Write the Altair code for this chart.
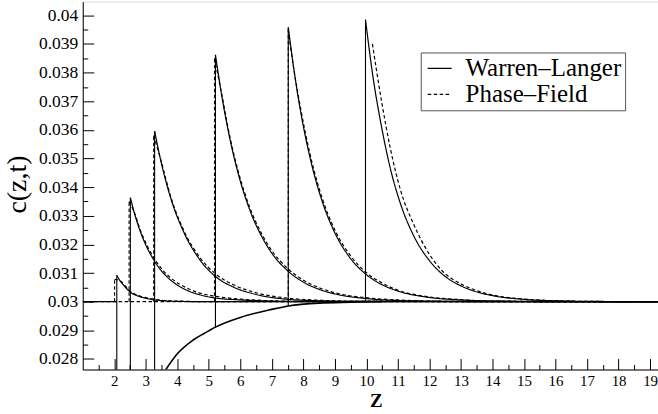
import altair as alt
import pandas as pd

SERIF = "Liberation Serif"

# ---------------- tick values ----------------
x_major = [2, 3, 4, 5, 6, 7, 8, 9, 10, 11, 12, 13, 14, 15, 16, 17, 18, 19]
x_minor = [1.5, 2.5, 3.5, 4.5, 5.5, 6.5, 7.5, 8.5, 9.5, 10.5, 11.5, 12.5, 13.5,
           14.5, 15.5, 16.5, 17.5, 18.5]
y_major = [0.028, 0.029, 0.030, 0.031, 0.032, 0.033, 0.034, 0.035, 0.036,
           0.037, 0.038, 0.039, 0.040]
y_minor = [0.0285, 0.0295, 0.0305, 0.0315, 0.0325, 0.0335, 0.0345, 0.0355,
           0.0365, 0.0375, 0.0385, 0.0395]

# ---------------- Warren-Langer profiles (solid) ----------------
wl0_z = [1.0, 2.08]
wl0_c = [0.0300, 0.0300]
wl1_z = [2.08, 2.2, 2.3, 2.5, 2.8, 3.0, 3.23, 3.6, 4.0, 5.0, 19.25]
wl1_c = [0.03092, 0.0307, 0.03057, 0.03034, 0.03018, 0.03012, 0.03007, 0.03003,
         0.03001, 0.0300, 0.0300]
wl2_z = [2.51, 2.65, 2.81, 3.0, 3.23, 3.5, 3.86, 4.3, 4.71, 5.13, 6.0, 7.0, 8.0, 19.25]
wl2_c = [0.03363, 0.03305, 0.0325, 0.03198, 0.0315, 0.03107, 0.03069, 0.0304,
         0.03024, 0.03014, 0.03006, 0.03002, 0.0300, 0.0300]
wl3_z = [3.28, 3.44, 3.81, 4.2, 4.71, 5.21, 5.8, 6.5, 7.52, 8.5, 9.5, 19.25]
wl3_c = [0.03596, 0.0351, 0.03355, 0.03244, 0.03147, 0.03088, 0.0305, 0.03025,
         0.03008, 0.03003, 0.03001, 0.0300]
wl4_z = [5.21, 5.4, 5.66, 5.95, 6.29, 6.71, 7.0, 7.5, 8.0, 8.5, 9.0, 9.97, 11.0, 12.0, 13.0, 19.25]
wl4_c = [0.03862, 0.03726, 0.03573, 0.0344, 0.03323, 0.03221, 0.03169, 0.03108,
         0.03068, 0.03043, 0.03027, 0.03011, 0.03004, 0.03002, 0.03001, 0.0300]
wl5_z = [7.52, 7.7, 7.92, 8.2, 8.6, 9.0, 9.5, 9.97, 10.5, 11.0, 11.97, 13.0, 14.0, 19.25]
wl5_c = [0.03958, 0.0381, 0.03659, 0.03508, 0.03349, 0.0324, 0.0315, 0.03097,
         0.03059, 0.03037, 0.03015, 0.03006, 0.03002, 0.0300]
wl6_z = [9.97, 10.2, 10.48, 10.75, 11.08, 11.5, 12.0, 12.4, 13.0, 13.6, 14.1, 15.0,
         16.0, 17.0, 19.25]
wl6_c = [0.03985, 0.03791, 0.0361, 0.03469, 0.03342, 0.0323, 0.03143, 0.03097,
         0.03055, 0.03031, 0.03019, 0.03008, 0.03003, 0.03001, 0.0300]

# solid-side concentration (shared lower curve)
low_z = [3.28, 3.62, 4.0, 4.5, 5.0, 5.21, 6.0, 7.0, 7.52, 8.5, 9.5, 10.5]
low_c = [0.02699, 0.0276, 0.02818, 0.02866, 0.02898, 0.02911, 0.02945, 0.02973,
         0.02985, 0.02995, 0.02998, 0.0300]

# vertical interface jumps
wl_front_z = [2.08, 2.51, 3.28, 5.21, 7.52, 9.97]
wl_front_lo = [0.0270, 0.0270, 0.0270, 0.02911, 0.02985, 0.02999]
wl_front_hi = [0.03092, 0.03363, 0.03596, 0.03862, 0.03958, 0.03985]

# ---------------- Phase-Field profiles (dashed) ----------------
pf0_z = [1.0, 7.52]
pf0_c = [0.0300, 0.0300]
pf1_z = [2.01, 2.2, 2.3, 2.5, 2.8, 3.0, 3.23, 3.6, 4.0, 5.0, 19.25]
pf1_c = [0.03078, 0.03072, 0.03061, 0.03037, 0.0302, 0.03014, 0.03009, 0.03004,
         0.03002, 0.0300, 0.0300]
pf2_z = [2.47, 2.65, 2.81, 3.0, 3.23, 3.5, 3.86, 4.3, 4.71, 5.13, 6.0, 7.0, 8.0, 19.25]
pf2_c = [0.0335, 0.03308, 0.03255, 0.03205, 0.03158, 0.03115, 0.03077, 0.03048,
         0.0303, 0.0302, 0.03009, 0.03003, 0.03001, 0.0300]
pf3_z = [3.25, 3.44, 3.81, 4.2, 4.71, 5.21, 5.8, 6.5, 7.52, 8.5, 9.5, 19.25]
pf3_c = [0.0358, 0.0351, 0.0336, 0.0325, 0.03155, 0.03097, 0.03058, 0.03031,
         0.03012, 0.03005, 0.03002, 0.0300]
pf4_z = [5.18, 5.4, 5.66, 5.95, 6.29, 6.71, 7.0, 7.5, 8.0, 8.5, 9.0, 9.97, 11.0, 12.0, 13.0, 19.25]
pf4_c = [0.0385, 0.0373, 0.0358, 0.03448, 0.03332, 0.0323, 0.03178, 0.03116,
         0.03075, 0.03049, 0.03031, 0.03014, 0.03006, 0.03002, 0.03001, 0.0300]
pf5_z = [7.52, 7.7, 7.92, 8.2, 8.6, 9.0, 9.5, 9.97, 10.5, 11.0, 11.97, 13.0, 14.0, 19.25]
pf5_c = [0.0395, 0.0381, 0.0367, 0.0352, 0.0336, 0.0325, 0.0316, 0.03104, 0.03065,
         0.0304, 0.03017, 0.03007, 0.03002, 0.0300]
pf6_z = [10.19, 10.48, 10.75, 11.08, 11.5, 12.0, 12.4, 13.0, 13.6, 14.1, 15.0, 16.0,
         17.0, 19.25]
pf6_c = [0.0390, 0.0370, 0.0354, 0.0339, 0.0327, 0.03165, 0.03108, 0.03062, 0.03035,
         0.03021, 0.03009, 0.03003, 0.03001, 0.0300]

pf_front_z = [2.01, 2.47, 3.25, 5.18, 7.52]
pf_front_lo = [0.0300, 0.0300, 0.0300, 0.0300, 0.0300]
pf_front_hi = [0.03078, 0.0335, 0.0358, 0.0385, 0.0395]

WL = "Warren\u2013Langer"
PF = "Phase\u2013Field"

rows = []
def add(name, model, zs, cs):
    for z, c in zip(zs, cs):
        rows.append({"z": z, "c": c, "curve": name, "model": model})

add("wl0", WL, wl0_z, wl0_c)
add("wl1", WL, wl1_z, wl1_c)
add("wl2", WL, wl2_z, wl2_c)
add("wl3", WL, wl3_z, wl3_c)
add("wl4", WL, wl4_z, wl4_c)
add("wl5", WL, wl5_z, wl5_c)
add("wl6", WL, wl6_z, wl6_c)
add("pf0", PF, pf0_z, pf0_c)
add("pf1", PF, pf1_z, pf1_c)
add("pf2", PF, pf2_z, pf2_c)
add("pf3", PF, pf3_z, pf3_c)
add("pf4", PF, pf4_z, pf4_c)
add("pf5", PF, pf5_z, pf5_c)
add("pf6", PF, pf6_z, pf6_c)
lines_df = pd.DataFrame(rows)

low_df = pd.DataFrame({"z": low_z, "c": low_c})
wl_front_df = pd.DataFrame({"z": wl_front_z, "lo": wl_front_lo, "hi": wl_front_hi})
pf_front_df = pd.DataFrame({"z": pf_front_z, "lo": pf_front_lo, "hi": pf_front_hi})
anchor_df = pd.DataFrame({"z": [5.0], "c": [0.03]})

xs = alt.Scale(domain=[1, 19.25], nice=False, zero=False)
ys = alt.Scale(domain=[0.02763, 0.04048], nice=False, zero=False)
DASH = [3.5, 2.5]

dash_scale = alt.Scale(domain=[WL, PF], range=[[1, 0], DASH])

lines = alt.Chart(lines_df).mark_line(
    interpolate="monotone", clip=True, color="black", strokeWidth=1.2
).encode(
    x=alt.X("z:Q", scale=xs, axis=alt.Axis(
        values=x_major, ticks=False, tickSize=0, labelPadding=4, labelFontSize=15,
        labelFont=SERIF, labelColor="black", domainColor="black", grid=False,
        title="Z", titleFont=SERIF, titleFontSize=19, titleFontWeight="bold",
        titleColor="black", titleX=294, titleY=31, titleBaseline="middle",
        titleAlign="center")),
    y=alt.Y("c:Q", scale=ys, axis=alt.Axis(
        values=y_major, format="~g", ticks=False, tickSize=0, labelPadding=5,
        labelFontSize=17.5, labelFont=SERIF, labelColor="black", domainColor="black",
        grid=False, title="c(z,t)", titleFont=SERIF, titleFontSize=28,
        titleFontWeight="normal", titleColor="black", titleX=-65, titleY=183,
        titleAngle=270, titleBaseline="middle", titleAlign="center")),
    strokeDash=alt.StrokeDash("model:N", scale=dash_scale, legend=alt.Legend(
        title=None, orient="none", legendX=339, legendY=51, symbolType="stroke",
        symbolSize=576, symbolStrokeWidth=1.2, symbolStrokeColor="black",
        symbolOffset=3, labelFont=SERIF, labelFontSize=25, labelColor="black",
        labelOffset=13, labelLimit=400, padding=3, rowPadding=0, strokeColor="#555",
        fillColor="white", cornerRadius=0)),
    detail="curve:N",
)

lower = alt.Chart(low_df).mark_line(
    interpolate="monotone", clip=True, color="black", strokeWidth=1.6
).encode(
    x=alt.X("z:Q", scale=xs, axis=None),
    y=alt.Y("c:Q", scale=ys, axis=None),
)

wl_rules = alt.Chart(wl_front_df).mark_rule(clip=True, color="black", strokeWidth=1.1).encode(
    x=alt.X("z:Q", scale=xs, axis=None),
    y=alt.Y("lo:Q", scale=ys, axis=None),
    y2="hi:Q",
)
pf_rules = alt.Chart(pf_front_df).mark_rule(
    clip=True, color="black", strokeWidth=1.1, strokeDash=DASH
).encode(
    x=alt.X("z:Q", scale=xs, axis=None),
    y=alt.Y("lo:Q", scale=ys, axis=None),
    y2="hi:Q",
)

def xticks(vals, size):
    return alt.Chart(anchor_df).mark_point(opacity=0).encode(
        x=alt.X("z:Q", scale=xs, axis=alt.Axis(
            orient="bottom", values=vals, offset=-size, tickSize=size, labels=False,
            domain=False, grid=False, title=None, tickColor="black", tickWidth=1)),
        y=alt.Y("c:Q", scale=ys, axis=None),
    )

def yticks(vals, size):
    return alt.Chart(anchor_df).mark_point(opacity=0).encode(
        x=alt.X("z:Q", scale=xs, axis=None),
        y=alt.Y("c:Q", scale=ys, axis=alt.Axis(
            orient="left", values=vals, offset=-size, tickSize=size, labels=False,
            domain=False, grid=False, title=None, tickColor="black", tickWidth=1)),
    )

chart = alt.layer(
    lower, wl_rules, pf_rules, lines,
    xticks(x_major, 11), xticks(x_minor, 5),
    yticks(y_major, 11), yticks(y_minor, 5),
).resolve_axis(x="independent", y="independent").properties(
    width=577, height=369,
    padding={"left": 83, "top": 1, "right": 0, "bottom": 44},
    autosize=alt.AutoSizeParams(type="none"),
).configure_view(stroke="#333", strokeWidth=1).configure(font=SERIF)

chart.save("out.html", embed_options={"renderer": "svg", "actions": False})
